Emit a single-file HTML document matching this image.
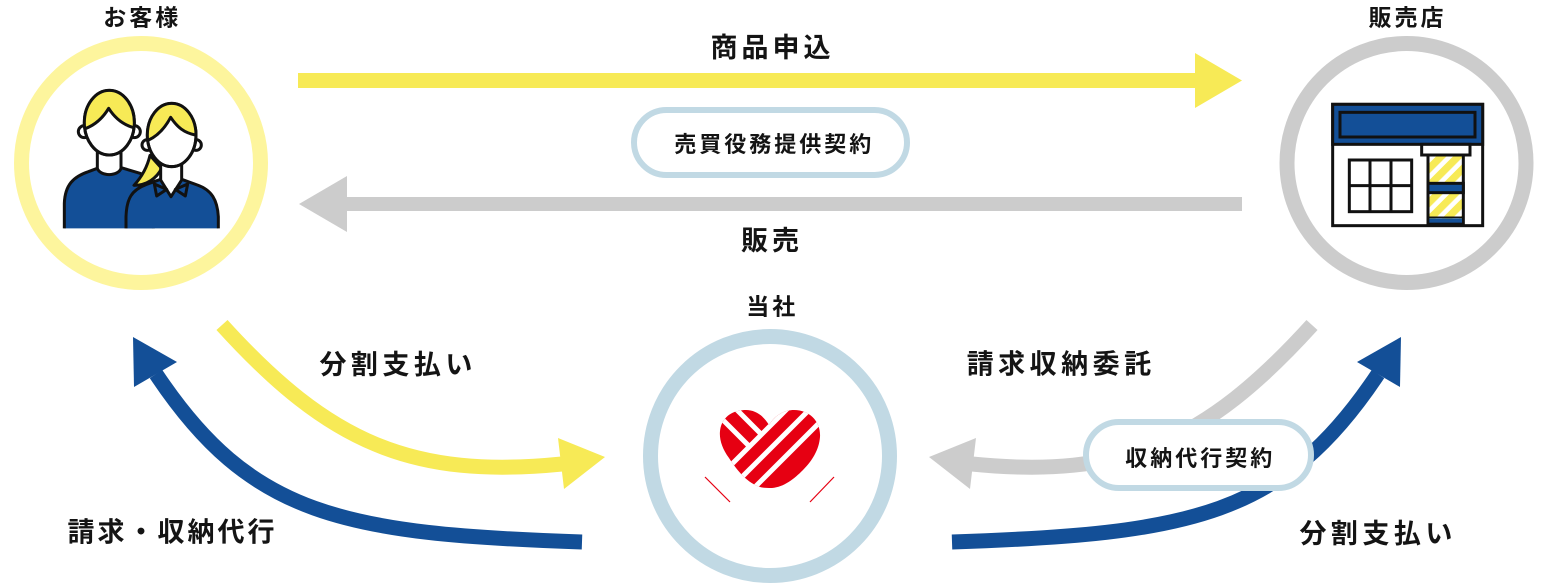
<!DOCTYPE html>
<html><head><meta charset="utf-8">
<style>
html,body{margin:0;padding:0;background:#fff;}
body{width:1548px;height:586px;overflow:hidden;}
svg{display:block;}
text{font-family:"Liberation Sans","Noto Sans CJK JP",sans-serif;font-weight:700;fill:#141414;}
</style></head>
<body>
<svg width="1548" height="586" viewBox="0 0 1548 586" xmlns="http://www.w3.org/2000/svg">
<defs>
  <clipPath id="cc"><rect x="150" y="200" width="560" height="485"/></clipPath>
  <clipPath id="manHead"><ellipse cx="328" cy="368" rx="75" ry="97"/></clipPath>
  <clipPath id="womHead"><ellipse cx="515" cy="405" rx="73" ry="95"/></clipPath>
  <pattern id="st" width="36" height="36" patternUnits="userSpaceOnUse" patternTransform="rotate(-45)">
    <rect width="36" height="36" fill="#fff"/>
    <rect width="36" height="22" fill="#f7ea56"/>
  </pattern>
  <clipPath id="hc"><path d="M760,487 C748,483 738,472 729,458 C721,447 718,436 721,426 C725,414 736,410 746,410 C755,410 763,415 769,425 C776,414 785,410 794,410 C810,410 821,422 820,437 C819,450 812,461 803,470 C794,479 784,487 772,488 C767,488 763,488 760,487 Z"/></clipPath>
</defs>

<rect width="1548" height="586" fill="#fff"/>

<!-- circles -->
<circle cx="141" cy="163" r="119.5" fill="#fff" stroke="#fdf59d" stroke-width="15"/>
<circle cx="1406.5" cy="163" r="119.5" fill="#fff" stroke="#cccccc" stroke-width="15"/>
<circle cx="770" cy="456" r="119.5" fill="#fff" stroke="#c1d9e4" stroke-width="15"/>

<!-- top arrows -->
<rect x="298" y="73" width="898" height="15" fill="#f7ea56"/>
<polygon points="1195,53 1242,80.5 1195,108" fill="#f7ea56"/>
<rect x="346" y="197" width="896" height="14" fill="#cccccc"/>
<polygon points="299,204 347,176 347,232" fill="#cccccc"/>

<!-- pill 1 -->
<rect x="634" y="110" width="273" height="65" rx="32.5" ry="32.5" fill="#fff" stroke="#c1d9e4" stroke-width="6"/>

<!-- lower-left curves -->
<path d="M222,325 C329,443 412,479 562,464" fill="none" stroke="#f7ea56" stroke-width="15"/>
<polygon points="558,438 605,457 564,489" fill="#f7ea56"/>
<path d="M582,542 C342,534 250.5,515.8 156,374" fill="none" stroke="#134f97" stroke-width="15"/>
<polygon points="133,337 177,362 134,387" fill="#134f97"/>

<!-- lower-right curves (mirrored) -->
<g transform="translate(1534,0) scale(-1,1)">
  <path d="M222,325 C329,443 412,479 562,464" fill="none" stroke="#cccccc" stroke-width="15"/>
  <polygon points="558,438 605,457 564,489" fill="#cccccc"/>
  <path d="M582,542 C342,534 250.5,515.8 156,374" fill="none" stroke="#134f97" stroke-width="15"/>
  <polygon points="133,337 177,362 134,387" fill="#134f97"/>
</g>

<!-- pill 2 -->
<rect x="1086" y="422" width="225" height="66" rx="33" ry="33" fill="#fff" stroke="#c1d9e4" stroke-width="6"/>

<!-- customer icon -->
<g transform="scale(0.333333)">
 <g clip-path="url(#cc)" stroke="#111" stroke-width="9" stroke-linejoin="round">
  <path d="M193,700 L193,610 C195,555 220,530 265,515 L300,502 L360,502 L420,520 C450,530 460,550 460,580 L460,700 Z" fill="#134f97"/>
  <path d="M292,440 L292,505 C300,530 355,530 363,505 L363,440" fill="#fff"/>
  <circle cx="253" cy="395" r="18" fill="#fff"/>
  <circle cx="403" cy="395" r="18" fill="#fff"/>
  <ellipse cx="328" cy="368" rx="75" ry="97" fill="#fff"/>
  <path d="M235,392 C268,384 305,360 326,325 C345,358 378,380 420,390 L420,250 L235,250 Z" fill="#f7ea56" stroke="none" clip-path="url(#manHead)"/>
  <path d="M256,386 C282,376 308,355 326,325 C345,355 372,375 401,383" fill="none"/>
  <ellipse cx="328" cy="368" rx="75" ry="97" fill="none"/>

  <path d="M450,466 C442,500 426,530 402,556 C440,556 470,535 485,505 Z" fill="#f7ea56"/>
  <path d="M378,700 L378,650 C380,595 395,570 440,553 L482,538 L545,538 L592,555 C635,570 652,600 655,650 L655,700 Z" fill="#134f97"/>
  <path d="M482,492 L482,540 L513,590 L545,540 L545,492" fill="#fff"/>
  <path d="M463,552 L470,588 L500,568 Z" fill="#134f97"/>
  <path d="M563,552 L556,588 L526,568 Z" fill="#134f97"/>
  <circle cx="442" cy="435" r="16" fill="#fff"/>
  <circle cx="588" cy="435" r="16" fill="#fff"/>
  <ellipse cx="515" cy="405" rx="73" ry="95" fill="#fff"/>
  <path d="M430,428 C468,412 494,386 512,352 C534,386 556,400 600,410 L600,300 L430,300 Z" fill="#f7ea56" stroke="none" clip-path="url(#womHead)"/>
  <path d="M446,420 C476,406 496,382 512,352 C532,382 552,398 586,405" fill="none"/>
  <ellipse cx="515" cy="405" rx="73" ry="95" fill="none"/>
 </g>
</g>

<!-- store icon -->
<g transform="translate(1270,0) scale(0.333333)" stroke="#111" stroke-width="9">
  <rect x="188" y="313" width="450" height="364" fill="#fff"/>
  <rect x="188" y="313" width="450" height="120" fill="#134f97"/>
  <rect x="210" y="337" width="405" height="74" fill="#134f97"/>
  <rect x="455" y="433" width="145" height="32" fill="#fff"/>
  <rect x="238" y="480" width="187" height="155" fill="#fff"/>
  <line x1="300" y1="480" x2="300" y2="635"/>
  <line x1="363" y1="480" x2="363" y2="635"/>
  <line x1="238" y1="557" x2="425" y2="557"/>
  <rect x="474" y="465" width="106" height="207" fill="url(#st)"/>
  <rect x="474" y="550" width="106" height="28" fill="#134f97"/>
  <rect x="478" y="655" width="98" height="13" fill="#134f97" stroke="none"/>
  <line x1="474" y1="652" x2="580" y2="652" stroke-width="5"/>
</g>

<!-- heart logo -->
<g clip-path="url(#hc)">
  <rect x="712" y="402" width="116" height="92" fill="#e60012"/>
  <g stroke="#fff" stroke-width="5">
    <line x1="700" y1="496" x2="800" y2="396"/>
    <line x1="720" y1="499" x2="820" y2="399"/>
    <line x1="740" y1="502" x2="840" y2="402"/>
    <line x1="712" y1="409" x2="749.5" y2="446.5"/>
    <line x1="728" y1="401" x2="761.5" y2="434.5"/>
  </g>
</g>
<line x1="705" y1="477" x2="730" y2="502" stroke="#e60012" stroke-width="1.2"/>
<line x1="834" y1="477" x2="810" y2="502" stroke="#e60012" stroke-width="1.2"/>

<!-- labels -->
<text x="142.3" y="25.4" font-size="23" text-anchor="middle" style="letter-spacing:3px">お客様</text>
<text x="1407.5" y="25.4" font-size="23" text-anchor="middle" style="letter-spacing:3px">販売店</text>
<text x="772.3" y="314.7" font-size="23" text-anchor="middle" style="letter-spacing:3px">当社</text>

<text x="772.5" y="57" font-size="27" text-anchor="middle" style="letter-spacing:4px">商品申込</text>
<text x="772" y="250" font-size="27" text-anchor="middle" style="letter-spacing:4px">販売</text>
<text x="774.3" y="152" font-size="22" text-anchor="middle" style="letter-spacing:3px">売買役務提供契約</text>

<text x="398.2" y="373.8" font-size="27" text-anchor="middle" style="letter-spacing:4.5px">分割支払い</text>
<text x="172.5" y="541.3" font-size="27" text-anchor="middle" style="letter-spacing:3px">請求・収納代行</text>
<text x="1061.2" y="373.3" font-size="27" text-anchor="middle" style="letter-spacing:4.5px">請求収納委託</text>
<text x="1378.2" y="542.8" font-size="27" text-anchor="middle" style="letter-spacing:4.5px">分割支払い</text>
<text x="1200.2" y="465.9" font-size="22" text-anchor="middle" style="letter-spacing:3px">収納代行契約</text>
</svg>
</body></html>
